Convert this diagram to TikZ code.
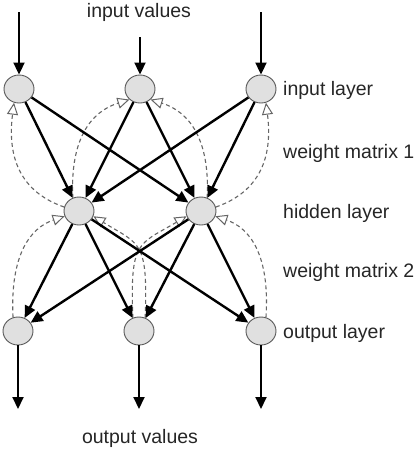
\documentclass[tikz,border=0pt]{standalone}
\usepackage{fontspec}
\setmainfont{Liberation Sans}
\usetikzlibrary{arrows.meta,shapes.geometric}
\begin{document}
\begin{tikzpicture}[x=1pt,y=-1pt,
 neuron/.style={ellipse, draw=black!65, line width=0.9pt, fill=black!12, minimum width=30pt, minimum height=28pt, inner sep=0pt},
 fwd/.style={line width=2.4pt, -{Triangle[length=12pt,width=11pt]}},
 back/.style={draw=black!60, line width=1.1pt, dash pattern=on 4pt off 3pt, -{Triangle[open,length=12pt,width=11pt,line width=1pt]}},
 lbl/.style={font=\fontsize{19.5}{22}\selectfont, inner sep=0pt, text=black!85}
]
\useasboundingbox (0,0) rectangle (420,453);
\fill[white] (0,0) rectangle (420,453);

% neurons
\node[neuron] (i1) at (19,89) {};
\node[neuron] (i2) at (140,89) {};
\node[neuron] (i3) at (261,89) {};
\node[neuron] (h1) at (79,211) {};
\node[neuron] (h2) at (201,211) {};
\node[neuron] (o1) at (18,331) {};
\node[neuron] (o2) at (139,331) {};
\node[neuron] (o3) at (261,331) {};

% labels
\node[lbl] (tin) at (139,12.5) {input values};
\node[lbl] (tout) at (140,438.5) {output values};
\node[lbl, anchor=west] (l1) at (283,90) {input layer};
\node[lbl, anchor=west] (l2) at (283,153) {weight matrix 1};
\node[lbl, anchor=west] (l3) at (283,213) {hidden layer};
\node[lbl, anchor=west] (l4) at (283,272) {weight matrix 2};
\node[lbl, anchor=west] (l5) at (283,333) {output layer};

% input / output arrows
\coordinate (s1) at (19,12);
\coordinate (s2) at (140,37);
\coordinate (s3) at (261,12);
\coordinate (e1) at (18,409);
\coordinate (e2) at (139,409);
\coordinate (e3) at (261,409);
\draw[fwd, line width=2pt] (s1) -- (i1);
\draw[fwd, line width=2pt] (s2) -- (i2);
\draw[fwd, line width=2pt] (s3) -- (i3);
\draw[fwd, line width=2pt] (o1) -- (e1);
\draw[fwd, line width=2pt] (o2) -- (e2);
\draw[fwd, line width=2pt] (o3) -- (e3);

% backward dashed connections
\draw[back] (h1.165) .. controls (15,190) and (8,150) .. (i1.250);
\draw[back] (h1.115) .. controls (70,140) and (90,112) .. (i2.225);
\draw[back] (h2.65) .. controls (210,140) and (190,112) .. (i2.315);
\draw[back] (h2.15) .. controls (265,190) and (272,150) .. (i3.290);
\draw[back] (o1.110) .. controls (10,255) and (30,228) .. (h1.200);
\draw[back] (o2.65) .. controls (148,240) and (140,245) .. (h1.340);
\draw[back] (o2.115) .. controls (130,240) and (138,245) .. (h2.200);
\draw[back] (o3.70) .. controls (270,255) and (250,228) .. (h2.340);

% forward connections
\foreach \a in {i1,i2,i3}{
  \foreach \b in {h1,h2}{
    \draw[fwd] (\a) -- (\b);
  }
}
\foreach \a in {h1,h2}{
  \foreach \b in {o1,o2,o3}{
    \draw[fwd] (\a) -- (\b);
  }
}
\end{tikzpicture}
\end{document}
